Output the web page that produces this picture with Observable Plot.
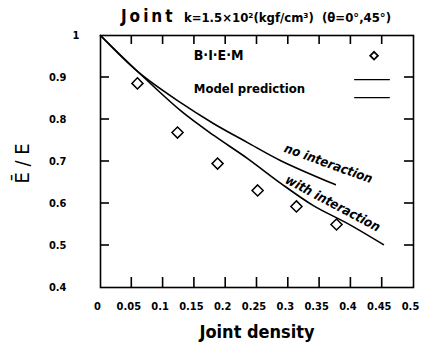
<!DOCTYPE html>
<html>
<head>
<meta charset="utf-8">
<script src="https://cdn.jsdelivr.net/npm/d3@7"></script>
<script src="https://cdn.jsdelivr.net/npm/@observablehq/plot@0.6"></script>
</head>
<body style="margin:0;background:#fff">
<div id="chart"></div>
<script>
// BIEM results (diamonds)
const biemX = [0.059, 0.123, 0.187, 0.251, 0.313, 0.377];
const biemY = [0.886, 0.769, 0.695, 0.631, 0.593, 0.550];
// Model prediction: no interaction
const noX = [0, 0.061, 0.128, 0.181, 0.235, 0.288, 0.375];
const noY = [1, 0.912, 0.840, 0.790, 0.745, 0.702, 0.645];
// Model prediction: with interaction
const withX = [0, 0.061, 0.128, 0.181, 0.235, 0.288, 0.340, 0.395, 0.452];
const withY = [1, 0.912, 0.821, 0.762, 0.707, 0.648, 0.595, 0.552, 0.502];
// tick values
const xTicks = [0, 0.05, 0.1, 0.15, 0.2, 0.25, 0.3, 0.35, 0.4, 0.45, 0.5];
const yTicks = [0.4, 0.5, 0.6, 0.7, 0.8, 0.9];
const yInnerTicks = [0.5, 0.6, 0.7, 0.8, 0.9];
const xInnerTicks = [0.05, 0.1, 0.15, 0.2, 0.25, 0.3, 0.35, 0.4, 0.45];
// curve labels
const curveLabels = [
  {text: "no interaction", x: 0.364, y: 0.695, rotate: 20},
  {text: "with interaction", x: 0.371, y: 0.600, rotate: 28}
];

const biem = biemX.map((x, i) => ({x, y: biemY[i]}));
const noData = noX.map((x, i) => ({x, y: noY[i]}));
const withData = withX.map((x, i) => ({x, y: withY[i]}));

const fmt = d => d === 0 ? "0" : String(d);
const font = "DejaVu Sans Condensed";

const W = 430, H = 349, mL = 100, mR = 17, mT = 35, mB = 62;
const xDom = [0, 0.5], yDom = [0.4, 1];
const fw = W - mL - mR, fh = H - mT - mB;
// pixel sizes expressed in domain units
const ux = (xDom[1] - xDom[0]) / fw;
const uy = (yDom[1] - yDom[0]) / fh;

const plot = Plot.plot({
  width: W,
  height: H,
  marginLeft: mL,
  marginRight: mR,
  marginTop: mT,
  marginBottom: mB,
  style: {fontFamily: font, fontWeight: "bold", fontSize: "11px", background: "#fff", color: "#000"},
  x: {domain: xDom},
  y: {domain: yDom},
  marks: [
    // curves
    Plot.line(noData, {x: "x", y: "y", curve: "catmull-rom", stroke: "#000", strokeWidth: 1.6}),
    Plot.line(withData, {x: "x", y: "y", curve: "catmull-rom", stroke: "#000", strokeWidth: 1.6}),
    // BIEM points
    Plot.dot(biem, {x: "x", y: "y", symbol: "diamond2", r: 5, stroke: "#000", strokeWidth: 1.5, fill: "none"}),
    // curve labels
    Plot.text(curveLabels, {x: "x", y: "y", text: "text", rotate: "rotate", fontSize: 13, fontWeight: "bold", fontStyle: "italic", letterSpacing: "2.5px", fill: "#000"}),
    // legend
    Plot.text(["B·I·E·M"], {x: 0.149, y: 0.952, textAnchor: "start", fontSize: 14, fontWeight: "bold", letterSpacing: "1px", fill: "#000"}),
    Plot.dot([0], {x: 0.437, y: 0.952, symbol: "diamond2", r: 3.5, stroke: "#000", strokeWidth: 1.8, fill: "none"}),
    Plot.text(["Model prediction"], {x: 0.149, y: 0.874, textAnchor: "start", fontSize: 13, fontWeight: "bold", letterSpacing: "1.5px", fill: "#000"}),
    Plot.ruleY([0.895, 0.852], {x1: 0.406, x2: 0.463, stroke: "#000", strokeWidth: 1.4}),
    // axis titles
    Plot.text(["Joint density"], {frameAnchor: "bottom", dy: 50, fontSize: 18, fontWeight: "bold", letterSpacing: "3px", fill: "#000"}),
    Plot.text(["Ē / E"], {frameAnchor: "left", dx: -78, dy: 22, rotate: -90, fontSize: 20, fontWeight: "normal", letterSpacing: "3px", fill: "#000"}),
    // tick labels
    Plot.axisX(xTicks, {anchor: "bottom", tickSize: 0, tickPadding: 15, tickFormat: fmt, dx: -3, label: null, fontWeight: "bold", letterSpacing: "1px"}),
    Plot.axisY(yTicks, {anchor: "left", tickSize: 0, tickPadding: 34, tickFormat: fmt, label: null, fontWeight: "bold", letterSpacing: "1px"}),
    Plot.axisY([1], {anchor: "left", tickSize: 0, tickPadding: 21, tickFormat: fmt, label: null, fontWeight: "bold"}),
    // inward ticks on all four sides, drawn as thin filled bars
    Plot.rect(xInnerTicks, {x1: d => d - 0.8 * ux, x2: d => d + 0.8 * ux, y1: yDom[0], y2: yDom[0] + 10 * uy, fill: "#000"}),
    Plot.rect(xInnerTicks, {x1: d => d - 0.8 * ux, x2: d => d + 0.8 * ux, y1: yDom[1], y2: yDom[1] - 9 * uy, fill: "#000"}),
    Plot.rect(yInnerTicks, {y1: d => d - 0.8 * uy, y2: d => d + 0.8 * uy, x1: xDom[0], x2: xDom[0] + 9 * ux, fill: "#000"}),
    Plot.rect(yInnerTicks, {y1: d => d - 0.8 * uy, y2: d => d + 0.8 * uy, x1: xDom[1], x2: xDom[1] - 9 * ux, fill: "#000"}),
    Plot.frame({stroke: "#000", strokeWidth: 1.6})
  ]
});

// title with mixed sizes
const svg = d3.select(plot);
const t = svg.append("text")
  .attr("x", 256).attr("y", 22)
  .attr("text-anchor", "middle")
  .attr("font-family", font)
  .attr("font-weight", "bold")
  .attr("fill", "#000");
t.append("tspan").attr("font-size", 17).attr("letter-spacing", "3px").text("Joint ");
t.append("tspan").attr("font-size", 13).text("k=1.5×10²(kgf/cm³)  (θ=0°,45°)");

document.getElementById("chart").appendChild(plot);
</script>
</body>
</html>
